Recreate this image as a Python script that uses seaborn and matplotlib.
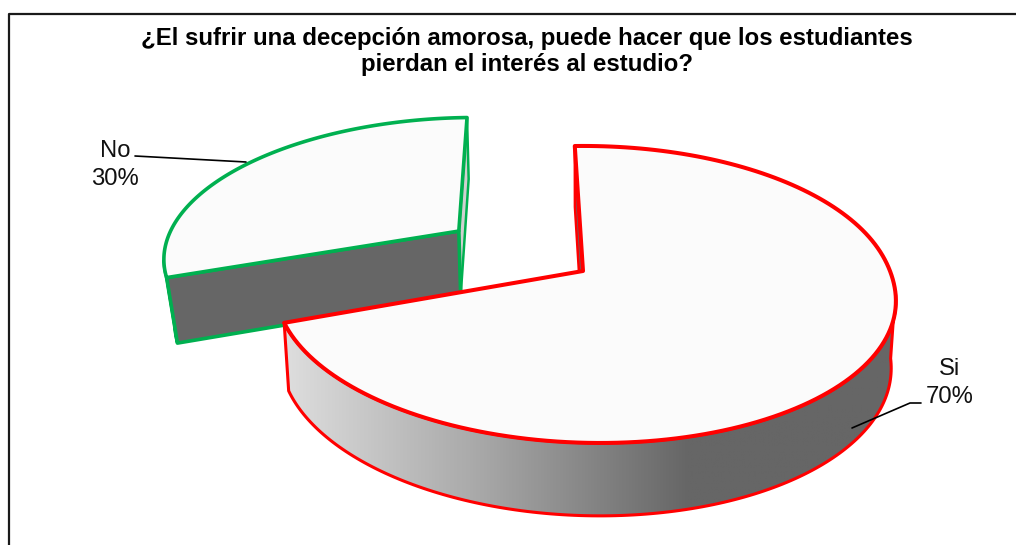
import numpy as np
import matplotlib
matplotlib.use("Agg")
import matplotlib.pyplot as plt
from matplotlib.patches import Polygon
import seaborn as sns

# Datos
labels = ["Si", "No"]
values = [70, 30]
title = "¿El sufrir una decepción amorosa, puede hacer que los estudiantes\npierdan el interés al estudio?"

# Geometry of the tilted pie (pixels)
CX, CY = 583, 271
R, K, P = 306, 144.8, 0.158
START = 91.8
EXPLODE = 0.513
DEPTH = 66
SKEW = 0.1

sns.set_theme(style="white")
plt.rcParams["font.family"] = ["Liberation Sans", "DejaVu Sans"]

RED = "#ff0000"
GREEN = "#00b050"
TOP = "#fbfbfb"
DARK = "#666666"
wall_cmap = sns.blend_palette(["#dedede", "#a6a6a6", DARK], as_cmap=True)


def project(u, v, du=0.0, dv=0.0, low=False, skew=0.0):
    u, v = np.asarray(u) + du, np.asarray(v) + dv
    w = 1 + P * v
    x = CX + R * u / w
    y = CY - K * v / w
    # smooth lean of the front part of the rim
    d = y - CY
    x = x + skew * 0.5 * (d + np.sqrt(d ** 2 + 400))
    if low:
        x = CX + (x - CX) * 0.985
        y = y + DEPTH + (y - CY) * 0.04
    return np.column_stack([x, y])


def rim(a0, a1, du=0.0, dv=0.0, low=False, r=1.0, skew=0.0):
    t = np.radians(np.linspace(a0, a1, 160))
    return project(r * np.cos(t), r * np.sin(t), du, dv, low, skew)


fig, ax = plt.subplots(figsize=(10.16, 5.45), dpi=100)
ax.set_position([0, 0, 1, 1])
ax.axis("off")

# Slice angles from the values
spans = np.array(values) / sum(values) * 360
si_a1, si_a0 = START, START - spans[0]
no_a0, no_a1 = START, START + spans[1]

# -- No slice (pulled away along its mid angle) --
mid = np.radians((no_a0 + no_a1) / 2)
du, dv = EXPLODE * np.cos(mid), EXPLODE * np.sin(mid)
apex_top = project(0, 0, du, dv)
apex_low = project(0, 0, du, dv, low=True)
no_top = rim(no_a0, no_a1, du, dv, r=0.985)
no_low = rim(no_a0, no_a1, du, dv, low=True, r=0.97)

# thin wall behind the right edge
ax.add_patch(Polygon(np.vstack([no_top[:1], no_low[:1], apex_low, apex_top]),
                     fc="#d0d0d0", ec=GREEN, lw=1.8, zorder=2))
# outer rim strip on the far left
left = np.argmin(no_top[:, 0])
ax.add_patch(Polygon(np.vstack([no_top[left:], no_low[left:][::-1]]),
                     fc=DARK, ec=GREEN, lw=2.2, zorder=2))
# front wall
ax.add_patch(Polygon(np.vstack([no_top[-1:], no_low[-1:], apex_low, apex_top]),
                     fc=DARK, ec=GREEN, lw=2.6, joinstyle="round", zorder=3))
ax.add_patch(Polygon(np.vstack([apex_top, no_top]), fc=TOP, ec=GREEN, lw=2.6,
                     joinstyle="round", zorder=4))

# -- Si slice --
apex_top = project(0, 0)
apex_low = project(0, 0, low=True)
si_top = rim(si_a1, si_a0, skew=SKEW)
si_low = rim(si_a1, si_a0, low=True, skew=SKEW)

# sliver of inner wall
ax.add_patch(Polygon(np.vstack([si_top[:1], si_low[:1], apex_low, apex_top]),
                     fc=DARK, ec=RED, lw=1.8, zorder=5))
# outer wall with the gradient
wall_top = rim(si_a0, -8, skew=SKEW)
wall_low = rim(si_a0, -8, low=True, skew=SKEW)
wall = Polygon(np.vstack([wall_top, wall_low[::-1]]), fc="none", ec=RED, lw=2.2,
               joinstyle="round", zorder=7, transform=ax.transData)
ax.add_patch(wall)
ramp = np.clip((np.linspace(270, 900, 400) - 283) / (690 - 283), 0, 1)[None, :]
img = ax.imshow(ramp, cmap=wall_cmap, vmin=0, vmax=1, aspect="auto",
                extent=[270, 900, 540, 280], zorder=6)
img.set_clip_path(wall)
ax.add_patch(Polygon(np.vstack([apex_top, si_top]), fc=TOP, ec=RED, lw=2.9,
                     joinstyle="round", zorder=8))

ax.set_xlim(0, 1016)
ax.set_ylim(545, 0)

# Frame: only left and top reach inside the image
ax.plot([8.5, 8.5, 1017], [546, 13.5, 13.5], color="#1a1a1a", lw=1.6, zorder=1)

ax.text(527, 51.5, title, ha="center", va="center", fontsize=17.3, fontweight="bold",
        color="black", linespacing=1.2)

# Data labels and leader lines
ax.text(115, 165, f"{labels[1]}\n{values[1]}%", ha="center", va="center", fontsize=17.2,
        color="#111111", linespacing=1.35)
ax.text(950, 383, f"{labels[0]}\n{values[0]}%", ha="center", va="center", fontsize=17.2,
        color="#111111", linespacing=1.35)
ax.plot([135, 246], [156, 162], color="black", lw=1.2, zorder=9)
ax.plot([852, 910, 921], [428, 403, 403], color="black", lw=1.2, zorder=9)

fig.savefig("out.png", dpi=100)
